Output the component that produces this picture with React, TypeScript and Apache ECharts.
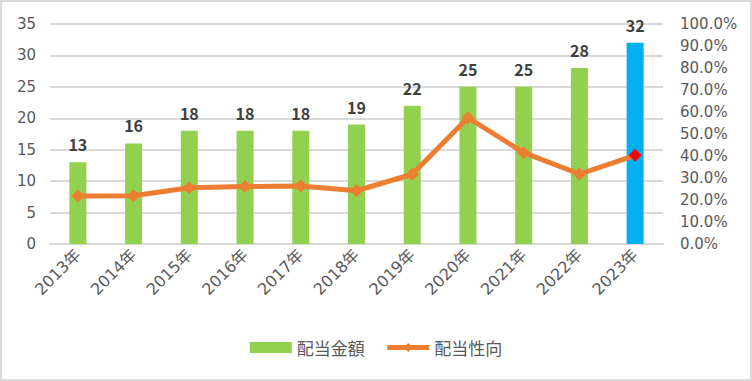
import React, { useEffect, useRef } from "react";
import * as echarts from "echarts";

const categories = ["2013年", "2014年", "2015年", "2016年", "2017年", "2018年", "2019年", "2020年", "2021年", "2022年", "2023年"];
const dividendAmount = [13, 16, 18, 18, 18, 19, 22, 25, 25, 28, 32];
const payoutRatio = [0.218, 0.219, 0.256, 0.261, 0.264, 0.242, 0.317, 0.574, 0.415, 0.318, 0.403];
const barName = "配当金額";
const lineName = "配当性向";

const FONT = "'Noto Sans CJK JP', 'Noto Sans', sans-serif";
const AXIS_FONT = "'DejaVu Sans', 'Noto Sans CJK JP', sans-serif";

export default function App() {
  const ref = useRef<HTMLDivElement>(null);
  useEffect(() => {
    if (!ref.current) return;
    const chart = echarts.init(ref.current, undefined, { renderer: "svg" });
    const last = categories.length - 1;
    chart.setOption({
      animation: false,
      backgroundColor: "#ffffff",
      textStyle: { fontFamily: FONT },
      graphic: [
        {
          type: "rect",
          shape: { x: 1, y: 1, width: 750, height: 379 },
          style: { fill: "none", stroke: "#d9d9d9", lineWidth: 2 },
          silent: true,
        },
      ],
      grid: { left: 50, right: 89, top: 24, bottom: 137 },
      legend: {
        bottom: 20,
        left: "center",
        itemWidth: 42,
        itemHeight: 11,
        itemGap: 20,
        textStyle: { color: "#595959", fontSize: 17, fontFamily: FONT },
        data: [
          { name: barName, icon: "rect" },
          { name: lineName, lineStyle: { width: 5 } },
        ],
      },
      xAxis: {
        type: "category",
        data: categories,
        axisTick: { show: false },
        axisLine: { lineStyle: { color: "#d9d9d9", width: 2 } },
        axisLabel: { rotate: 45, color: "#595959", fontSize: 16, margin: 8, fontFamily: AXIS_FONT },
      },
      yAxis: [
        {
          type: "value",
          min: 0,
          max: 35,
          interval: 5,
          axisLine: { show: false },
          axisTick: { show: false },
          splitLine: { lineStyle: { color: "#d9d9d9", width: 2 } },
          axisLabel: { color: "#595959", fontSize: 15, margin: 14, fontFamily: AXIS_FONT },
        },
        {
          type: "value",
          min: 0,
          max: 1,
          interval: 0.1,
          axisLine: { show: false },
          axisTick: { show: false },
          splitLine: { show: false },
          axisLabel: {
            color: "#595959",
            fontSize: 15,
            margin: 17,
            fontFamily: AXIS_FONT,
            formatter: (v: number) => (v * 100).toFixed(1) + "%",
          },
        },
      ],
      series: [
        {
          name: barName,
          type: "bar",
          barWidth: 17,
          itemStyle: { color: "#92D050" },
          data: dividendAmount.map((v, i) =>
            i === last ? { value: v, itemStyle: { color: "#00B0F0" } } : v
          ),
          label: {
            show: true,
            position: "top",
            distance: 10,
            color: "#404040",
            fontWeight: "bold",
            fontSize: 16,
            fontFamily: FONT,
          },
          z: 2,
        },
        {
          name: lineName,
          type: "line",
          yAxisIndex: 1,
          symbol: "diamond",
          symbolSize: 13,
          lineStyle: { color: "#ED7D31", width: 5 },
          itemStyle: { color: "#ED7D31" },
          data: payoutRatio.map((v, i) =>
            i === last ? { value: v, itemStyle: { color: "#FF0000" } } : v
          ),
          z: 3,
        },
      ],
    });
    return () => chart.dispose();
  }, []);
  return (
    <div
      ref={ref}
      style={{ position: "absolute", left: 0, top: 0, width: 752, height: 381 }}
    />
  );
}
